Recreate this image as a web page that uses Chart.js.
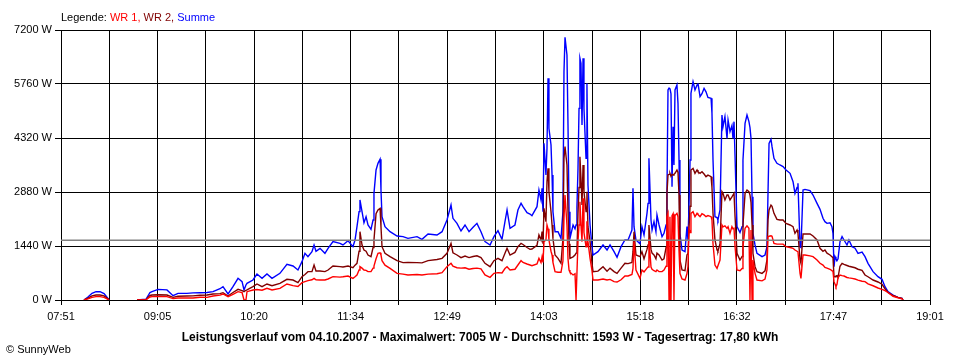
<!DOCTYPE html>
<html><head><meta charset="utf-8">
<script src="https://cdn.jsdelivr.net/npm/chart.js@4.4.0/dist/chart.umd.min.js"></script>
<style>
html,body{margin:0;padding:0;background:#fff;}
#wrap{position:relative;width:960px;height:360px;overflow:hidden;font-family:"Liberation Sans",Arial,sans-serif;background:#fff;}
#c{position:absolute;left:0;top:0;}
#legend{position:absolute;left:61px;top:10px;font-size:11px;line-height:14px;white-space:nowrap;color:#000;}
#caption{position:absolute;left:0;width:960px;top:330px;text-align:center;font-size:12px;font-weight:bold;line-height:14px;color:#000;}
#copy{position:absolute;left:6px;top:342px;font-size:11px;line-height:14px;color:#000;}
</style></head>
<body><div id="wrap"><canvas id="c" width="960" height="360"></canvas>
<div id="legend">Legende: <span style="color:#ff0000">WR 1,</span> <span style="color:#800000">WR 2,</span> <span style="color:#0000ff">Summe</span></div>
<div id="caption">Leistungsverlauf vom 04.10.2007 - Maximalwert: 7005 W - Durchschnitt: 1593 W - Tagesertrag: 17,80 kWh</div>
<div id="copy">© SunnyWeb</div></div>
<script>
const xLabels = ['07:51','09:05','10:20','11:34','12:49','14:03','15:18','16:32','17:47','19:01'];
const xStart = 471, xEnd = 1141;   // minutes since midnight
const yMax = 7200, yStep = 1440;
const average = 1593;

// time of each reading, minutes since midnight (null row = no data)
const times = [488.7,491.8,494.9,498.0,501.1,504.2,507.2,508.0,520.0,
529.6,536.5,539.6,541.2,545.8,552.7,557.4,561.2,568.1,572.8,578.2,583.6,588.2,593.6,595.9,599.8,603.6,607.5,610.6,612.1,613.6,614.4,
619.0,622.1,626.0,629.8,633.7,639.8,645.2,649.9,653.7,656.8,659.1,661.4,664.5,666.1,667.6,670.7,674.5,676.9,680.7,686.1,688.4,692.3,
696.1,697.7,699.2,700.8,701.5,703.1,704.6,706.2,707.7,710.0,711.6,712.3,713.9,715.4,717.0,717.7,718.5,720.8,724.7,730.1,734.7,738.5,
745.5,749.3,754.0,760.9,764.8,768.6,771.7,773.2,776.3,779.4,782.5,785.6,788.7,791.7,794.8,797.9,801.8,804.8,807.9,811.0,813.3,814.9,
817.2,821.0,823.3,825.7,827.2,830.3,832.6,834.1,838.0,839.5,841.1,841.9,842.6,843.4,844.9,845.7,846.5,847.2,848.8,849.6,850.3,851.9,
854.2,856.5,858.0,858.8,859.6,861.1,861.9,862.7,863.4,865.8,867.3,868.1,868.8,869.6,870.4,871.1,871.9,872.7,873.5,874.2,875.8,876.5,
877.3,878.9,880.4,881.2,885.0,888.9,892.0,894.3,897.4,899.7,902.8,905.8,908.2,911.2,912.0,912.8,914.3,917.4,918.9,920.5,922.8,923.6,
924.3,925.9,926.7,928.2,929.7,930.5,932.1,934.4,935.9,937.5,938.2,939.0,939.8,940.5,941.3,942.1,942.9,943.6,944.4,945.9,946.7,947.5,
948.2,949.8,952.1,953.6,954.4,955.2,956.0,956.7,958.3,959.8,961.4,962.1,963.7,965.2,966.8,968.3,969.8,972.2,972.9,973.7,975.2,976.8,
977.5,979.1,980.6,981.4,982.9,984.5,985.3,986.8,988.3,989.1,989.9,990.7,992.2,994.5,996.1,996.8,998.4,999.9,1001.4,1002.2,1003.0,1003.8,
1004.5,1006.1,1007.6,1011.5,1013.8,1015.3,1016.1,1016.9,1018.4,1019.2,1020.7,1023.0,1025.3,1027.7,1030.0,1033.1,1035.4,1036.9,1038.5,1039.2,
1040.8,1041.5,1043.1,1044.6,1048.5,1050.8,1053.9,1056.2,1058.5,1060.0,1061.6,1063.9,1065.4,1066.2,1067.0,1067.8,1068.5,1069.3,1070.1,1071.6,
1073.2,1074.7,1077.0,1078.5,1080.9,1083.2,1085.5,1088.6,1090.9,1093.2,1097.1,1100.9,1104.0,1106.3,1108.6,1112.5,1116.3,1119.4,1120.2];

// Summe (blue), W
const summe = [0,80,180,222,222,170,40,0,null,
0,20,200,222,284,270,116,178,178,190,195,200,222,300,356,160,356,578,489,267,400,444,
533,693,578,693,578,711,951,907,800,1022,1244,1156,1289,1467,1300,1378,1244,1378,1556,1511,1467,1578,
1422,1600,1956,2356,2667,2356,2062,2222,2000,1884,2133,2844,3467,3644,3751,2933,2222,1956,1822,1707,1689,1644,
1689,1618,1760,1733,1822,2133,2533,2178,2044,1840,2000,1822,1938,2044,1822,1556,1467,1689,1849,1618,2089,2400,
1911,2000,2400,2578,2489,2329,2293,2249,2489,2933,2667,2978,2356,4178,3333,4044,5911,4578,4133,3333,2356,1822,
1822,1644,2356,6089,7005,6533,4667,2356,1644,2000,1900,2000,2489,3500,5111,6444,6311,4667,6444,5111,3778,5778,
3067,2000,1422,1200,1289,1467,1333,1467,1289,1138,1422,1600,1600,1867,2978,1956,1600,1500,1956,1733,2311,2578,
3778,2133,1867,2089,1822,2267,2000,1689,1778,2000,2844,5600,5650,5644,5500,3022,4622,3600,5600,5733,5244,3733,
1778,1333,1289,1956,1600,2500,3733,5511,5822,5600,5733,5778,5422,5500,5644,5550,5400,5378,4978,3733,2222,2200,
2133,2400,4933,4622,4889,4311,4800,4489,4650,4311,4756,3822,1956,1800,1956,3733,4711,4933,4756,4600,4311,2756,
1778,1467,1244,1156,1200,1422,2844,4178,4284,4089,3778,3644,3600,3560,3467,3378,3156,2844,3000,3111,
1422,1400,2933,2950,2916,2800,2578,2418,2178,2089,2044,2060,1956,1778,889,1156,1100,1050,1100,1556,
1689,1600,1467,1600,1422,1380,1244,1280,1156,978,756,622,551,356,222,133,71,44,0];

// WR 2 (dark red), W
const wr2 = [0,50,110,133,133,110,30,0,null,
0,10,120,133,140,133,71,100,107,110,125,133,160,170,196,107,200,284,250,222,260,270,
356,427,356,427,380,444,551,533,462,622,680,756,756,933,773,773,756,800,907,889,880,907,
862,930,978,1300,1822,1467,1333,1300,1200,1156,1400,1600,2300,2400,2444,1956,1422,1244,1156,1049,996,1000,
996,990,1049,1080,1111,1244,1511,1260,1200,1130,1173,1130,1160,1180,1130,978,889,1049,1111,1049,1244,1378,
1200,1270,1420,1511,1480,1400,1351,1360,1460,1733,1600,1822,1500,2444,2089,3156,3511,2889,2356,2000,1644,1200,
1111,978,1644,3778,4089,3600,2356,1500,1111,1150,1200,1250,1300,2300,3000,3822,3244,2533,3600,2889,2356,2889,
1956,1556,978,756,770,889,770,850,756,711,850,978,970,1000,1289,1822,1200,1156,1289,1100,1350,1467,
2000,1350,1250,1200,1100,1250,1200,1067,1100,1400,2844,3333,3350,3378,3300,3350,3333,3350,3378,3467,3400,2800,
1067,800,780,1200,1240,1900,2500,3467,3511,3378,3467,3420,3378,3420,3360,3289,3330,3289,3000,2311,1600,1333,
1300,1500,2889,2844,2667,2800,2800,2667,2750,2800,2844,2222,1244,1067,1160,2000,2844,2933,2889,2800,2600,2000,
1244,889,756,711,778,1067,2133,2400,2533,2500,2311,2151,2133,2133,2044,2000,1956,1778,1867,1778,
1067,978,1760,1760,1760,1707,1600,1378,1300,1333,1250,1200,1156,1130,622,622,640,650,600,900,
978,950,920,900,880,860,820,790,667,620,533,480,420,300,200,120,70,44,0];

// WR 1 (red), W
const wr1 = [0,30,70,89,89,70,20,0,null,
0,5,80,89,89,89,36,53,53,53,75,71,107,130,160,89,150,222,200,0,0,222,
267,280,260,311,267,311,427,382,360,462,490,516,540,578,540,533,533,560,622,610,620,640,
578,620,667,800,889,850,800,790,756,756,850,907,1100,1244,1260,1200,1050,930,844,711,690,667,
680,667,690,700,729,889,978,900,860,850,860,820,840,850,830,667,604,711,729,720,840,889,
800,820,933,1049,1000,960,933,916,960,1111,1000,1150,1000,1556,1600,2000,1900,1600,1300,1200,1000,756,
740,740,1040,2178,2800,2000,1100,800,740,667,700,0,0,1556,2000,2622,2000,1556,2711,1800,1422,2100,
1556,1111,780,533,533,560,533,550,489,480,540,640,640,680,844,1556,800,578,800,750,850,880,
1644,880,820,780,756,800,760,756,800,900,2222,2311,0,2222,0,2250,2300,0,2250,2311,2222,1300,
711,560,533,700,900,1900,1800,2311,2356,2222,2311,2280,2222,2300,2270,2222,2250,2222,2133,1500,933,844,
844,1067,2000,1950,1978,1911,1956,1778,1956,1900,1911,1422,800,780,840,1422,1911,1978,1911,0,1867,0,
1067,711,533,511,556,800,1689,1700,1711,1700,1511,1489,1489,1489,1422,1400,1378,1333,1300,1280,
711,578,1200,1200,1178,1156,1067,978,930,871,850,820,782,760,489,420,356,420,600,667,
650,640,600,590,578,560,530,500,489,430,380,320,284,250,200,100,60,30,0];

function pts(arr){ return times.map((t,i)=>({x:t, y:arr[i]})); }
const tickFont = {family:'"Liberation Sans", Arial, sans-serif', size:11};

new Chart(document.getElementById('c'), {
  type:'line',
  data:{datasets:[
    {label:'Durchschnitt', data:[{x:xStart,y:average},{x:xEnd,y:average}], borderColor:'#808080', borderWidth:1.5, order:0},
    {label:'WR 1', data:pts(wr1), borderColor:'#ff0000', borderWidth:1.4, order:1},
    {label:'WR 2', data:pts(wr2), borderColor:'#800000', borderWidth:1.4, order:2},
    {label:'Summe', data:pts(summe), borderColor:'#0000ff', borderWidth:1.4, order:3}
  ]},
  options:{
    responsive:false, animation:false, spanGaps:false,
    elements:{point:{radius:0}, line:{tension:0, fill:false}},
    layout:{padding:{top:30,right:30,left:0,bottom:0}},
    plugins:{legend:{display:false}, tooltip:{enabled:false}},
    scales:{
      x:{type:'linear', min:xStart, max:xEnd,
        afterBuildTicks:(s)=>{ const n=(xLabels.length-1)*2; const t=[]; for(let i=0;i<=n;i++) t.push({value:xStart+(xEnd-xStart)*i/n}); s.ticks=t; },
        afterFit:(s)=>{ s.height=60; },
        ticks:{autoSkip:false, maxRotation:0, minRotation:0, padding:5, color:'#000', font:tickFont,
          callback:(v,i)=> (i%2===0 ? xLabels[i/2] : '')},
        grid:{color:'#000', lineWidth:1, tickLength:5, drawTicks:true},
        border:{color:'#000', width:1}
      },
      y:{min:0, max:yMax,
        afterFit:(s)=>{ s.width=61; },
        ticks:{stepSize:yStep, padding:3, color:'#000', font:tickFont, callback:(v)=> v+' W'},
        grid:{color:'#000', lineWidth:1, tickLength:6},
        border:{color:'#000', width:1}
      }
    }
  }
});
</script>
</body></html>
